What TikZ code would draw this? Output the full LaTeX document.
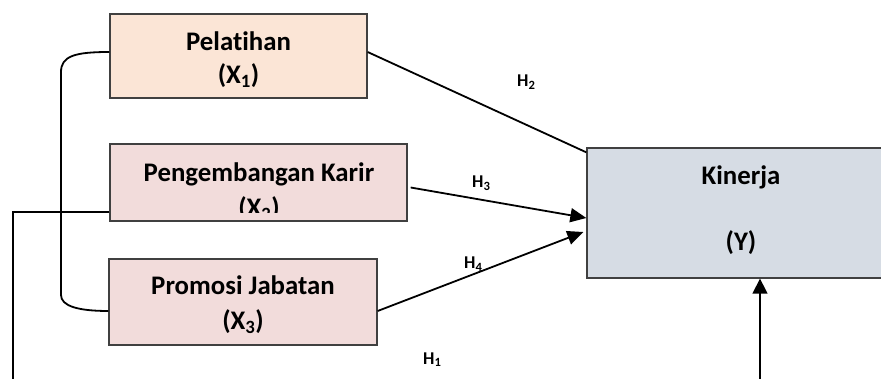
\documentclass[tikz,border=0pt]{standalone}
\usepackage{fontspec}
\setmainfont{Carlito}[Ligatures=CommonOff]
\usetikzlibrary{arrows.meta}
\definecolor{peach}{HTML}{FBE5D6}
\definecolor{rose}{HTML}{F2DCDB}
\definecolor{steel}{HTML}{D6DCE4}
\definecolor{edgegray}{HTML}{404040}
\tikzset{
  varbox/.style={draw=edgegray, line width=1.3pt, inner sep=0pt},
  boxtext/.style={anchor=base, font=\bfseries\fontsize{26.8}{30}\selectfont, inner sep=0pt},
  hlabel/.style={anchor=base west, font=\bfseries\fontsize{18}{20}\selectfont, inner sep=0pt},
  conn/.style={line width=1.8pt},
  arr/.style={conn, -{Triangle[length=16pt,width=14pt]}},
}
\begin{document}
\begin{tikzpicture}[x=1pt,y=-1pt]
\useasboundingbox (0,0) rectangle (881,379);
% boxes
\node[varbox, fill=peach, minimum width=257pt, minimum height=84pt] (b1) at (238.5,56) {};
\node[varbox, fill=rose, minimum width=297pt, minimum height=77pt] (b2) at (258.5,182.5) {};
\node[varbox, fill=rose, minimum width=268pt, minimum height=86pt] (b3) at (243,302) {};
\node[varbox, fill=steel, minimum width=308pt, minimum height=130pt] (k) at (741,213) {};
% box texts
\node[boxtext] (t1a) at (238.5,51) {Pelatihan};
\node[boxtext] (t1b) at (238.5,84) {(X\textsubscript{1})};
\node[boxtext] (t2a) at (259,182) {Pengembangan Karir};
\begin{scope}
  \clip (b2.north west) rectangle ([yshift=9pt]b2.south east);
  \node[boxtext] (t2b) at (259,217) {(X\textsubscript{2})};
\end{scope}
\node[boxtext] (t3a) at (243,295) {Promosi Jabatan};
\node[boxtext] (t3b) at (243,330) {(X\textsubscript{3})};
\node[boxtext] (tka) at (741,185) {Kinerja};
\node[boxtext] (tkb) at (741,251) {(Y)};
% hypothesis labels
\node[hlabel] (h2) at (517,87) {H\textsubscript{2}};
\node[hlabel] (h3) at (472,188) {H\textsubscript{3}};
\node[hlabel] (h4) at (464,269) {H\textsubscript{4}};
\node[hlabel] (h1) at (423,364) {H\textsubscript{1}};
% free ends
\coordinate (leftend) at (13,386);
\coordinate (bottomend) at (760,386);
% connectors
\draw[conn] ([yshift=4pt]b1.west) .. controls (75,52) and (61,56) .. (61,72)
  -- (61,295) .. controls (61,306) and (78,311) .. ([yshift=-9pt]b3.west);
\draw[conn] ([yshift=4pt]b1.east) -- ([yshift=-5pt]k.north west);
\draw[arr] ([xshift=3pt,yshift=-5pt]b2.east) -- ([yshift=-5pt]k.west);
\draw[arr] ([yshift=-9pt]b3.east) -- ([xshift=-3pt,yshift=-19pt]k.west);
\draw[conn] ([yshift=-29.5pt]b2.west) -| (leftend);
\draw[line width=1.4pt, -{Triangle[length=15pt,width=15pt]}] (bottomend) -- (bottomend |- k.south);
\end{tikzpicture}
\end{document}
